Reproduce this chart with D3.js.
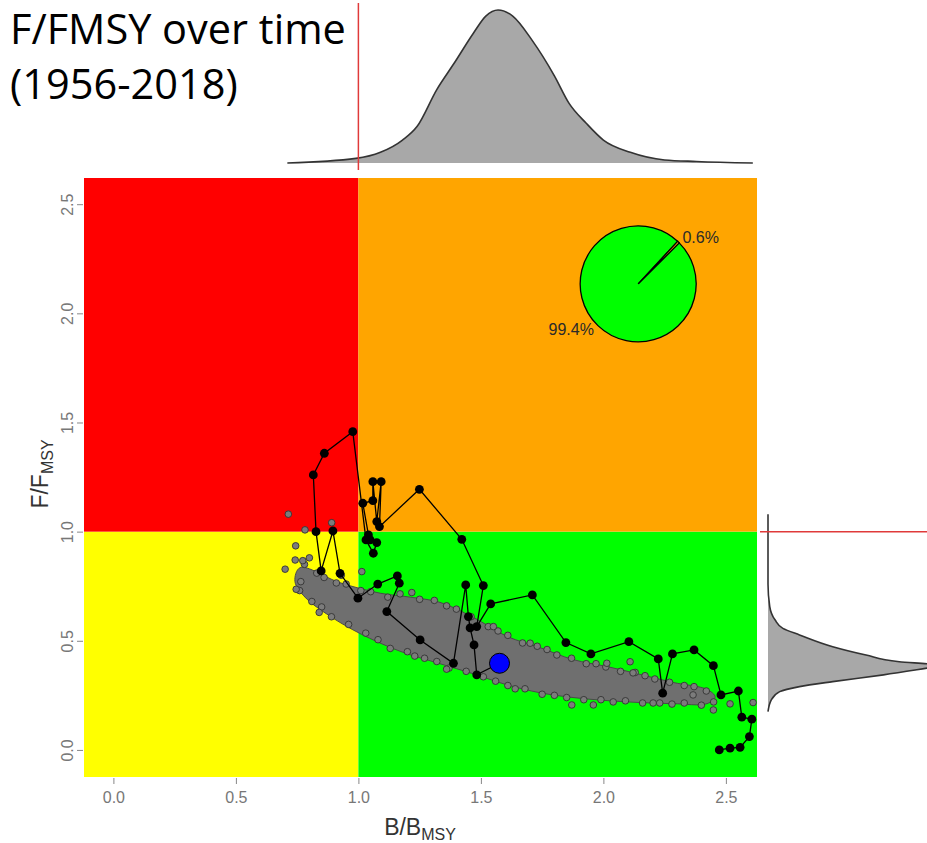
<!DOCTYPE html>
<html>
<head>
<meta charset="utf-8">
<script src="https://cdn.jsdelivr.net/npm/d3@7"></script>
<style>
  body { margin: 0; background: #fff; }
  svg { display: block; }
</style>
</head>
<body>
<div id="chart"></div>
<script>
// ---- values ----
const titleLines = ['F/FMSY over time', '(1956-2018)'];
const bTicks = [0, 0.5, 1, 1.5, 2, 2.5];
const fTicks = [0, 0.5, 1, 1.5, 2, 2.5];

// stock trajectory, first year -> last year (last entry = terminal year)
const trajB = [2.473, 2.517, 2.558, 2.596, 2.606, 2.565, 2.551, 2.480, 2.449, 2.370, 2.282, 2.242, 2.224, 2.104,
               1.949, 1.847, 1.710, 1.540, 1.483, 1.510, 1.422, 1.249, 1.086, 1.093, 1.075, 1.059, 1.059, 1.018,
               1.041, 1.048, 1.075, 1.061, 1.031, 0.977, 0.861, 0.816, 0.827, 0.848, 0.896, 0.925, 0.998, 1.079,
               1.159, 1.167, 1.116, 1.252, 1.388, 1.438, 1.449, 1.456, 1.472, 1.483, 1.576];
const trajF = [0.000, 0.008, 0.012, 0.061, 0.141, 0.150, 0.270, 0.252, 0.386, 0.458, 0.440, 0.260, 0.417, 0.496,
               0.440, 0.492, 0.710, 0.669, 0.565, 0.753, 0.965, 1.194, 1.023, 1.229, 1.046, 1.229, 1.142, 1.130,
               0.985, 0.962, 0.950, 0.901, 0.962, 1.458, 1.359, 1.260, 1.000, 0.820, 1.003, 0.809, 0.695, 0.760,
               0.797, 0.764, 0.634, 0.504, 0.397, 0.756, 0.611, 0.559, 0.481, 0.344, 0.397];

// outline of the dense uncertainty cloud (terminal year samples)
const cloudEdgeB = [0.762, 0.925, 1.089, 1.211, 1.333, 1.468, 1.607, 1.741, 1.876, 2.015, 2.150, 2.285, 2.423, 2.456,
                    2.423, 2.285, 2.150, 2.015, 1.876, 1.741, 1.607, 1.468, 1.333, 1.170, 1.007, 0.884, 0.782, 0.741];
const cloudEdgeF = [0.835, 0.766, 0.718, 0.700, 0.676, 0.608, 0.520, 0.469, 0.414, 0.382, 0.346, 0.309, 0.277, 0.243,
                    0.212, 0.212, 0.217, 0.226, 0.240, 0.262, 0.298, 0.349, 0.395, 0.452, 0.533, 0.613, 0.700, 0.772];

// single samples visible along the edge of the cloud and outside it
const cloudDotB = [0.78, 0.83, 0.86, 0.91, 0.95, 1.01, 1.05, 1.12, 1.17, 1.25, 1.31, 1.36, 1.40, 1.46, 1.53, 1.57, 1.61,
                   1.67, 1.73, 1.77, 1.81, 1.87, 1.93, 1.97, 2.01, 2.07, 2.13, 2.17, 2.21, 2.27, 2.33, 2.37, 2.42,
                   0.76, 0.81, 0.85, 0.89, 0.96, 1.03, 1.08, 1.13, 1.20, 1.27, 1.32, 1.37, 1.44, 1.51, 1.56, 1.61,
                   1.68, 1.75, 1.80, 1.85, 1.92, 1.99, 2.04, 2.09, 2.16, 2.23, 2.28, 2.33, 2.40, 2.45,
                   0.714, 0.782, 0.891, 0.744, 0.742, 0.773, 0.701, 0.765, 0.746, 1.014, 1.218, 1.551, 1.701, 2.109,
                   1.871, 1.959, 2.449, 2.517, 2.611, 2.014, 2.121, 2.366, 2.203, 0.80, 0.84, 0.93, 1.23, 1.36, 1.64];
const cloudDotF = [0.85, 0.81, 0.79, 0.765, 0.76, 0.73, 0.725, 0.70, 0.715, 0.69, 0.685, 0.66, 0.645, 0.61, 0.565, 0.545, 0.525,
                   0.49, 0.475, 0.46, 0.435, 0.42, 0.395, 0.395, 0.38, 0.36, 0.355, 0.34, 0.325, 0.31, 0.295, 0.29, 0.27,
                   0.73, 0.68, 0.655, 0.61, 0.575, 0.535, 0.505, 0.465, 0.45, 0.42, 0.405, 0.375, 0.36, 0.335, 0.315, 0.295,
                   0.28, 0.255, 0.25, 0.24, 0.23, 0.23, 0.22, 0.225, 0.215, 0.215, 0.21, 0.215, 0.205, 0.22,
                   1.080, 1.008, 1.041, 0.935, 0.870, 0.867, 0.828, 0.771, 0.736, 0.817, 0.721, 0.565, 0.489, 0.404,
                   0.206, 0.206, 0.183, 0.211, 0.217, 0.397, 0.353, 0.252, 0.215, 0.88, 0.63, 0.80, 0.43, 0.37, 0.28];

// marginal density of B/Bmsy (relative height)
const densB  = [0.71, 0.99, 1.09, 1.18, 1.24, 1.32, 1.39, 1.47, 1.52, 1.57, 1.63, 1.71, 1.80, 1.86, 1.93, 2.00, 2.11, 2.25, 2.38, 2.61];
const densBH = [0, 0.03, 0.07, 0.15, 0.24, 0.48, 0.65, 0.85, 0.96, 1.0, 0.96, 0.80, 0.57, 0.39, 0.26, 0.15, 0.07, 0.02, 0.01, 0];

// marginal density of F/Fmsy (relative height)
const densF  = [1.08, 0.76, 0.657, 0.596, 0.557, 0.527, 0.473, 0.435, 0.404, 0.394, 0.386, 0.376, 0.344, 0.313, 0.290, 0.267, 0.229, 0.175];
const densFH = [0, 0, 0.01, 0.04, 0.085, 0.18, 0.37, 0.56, 0.75, 0.92, 1.0, 0.92, 0.66, 0.37, 0.18, 0.067, 0.019, 0];

// probability of terminal year per quadrant
const pieLabels = ['0.6%', '99.4%'];
const pieShares = [0.6, 99.4];
const pieCentre = [2.142, 2.135];

class KobePlot {
    constructor(elID) {
        this.width  = 927;
        this.height = 843;
        this.svg    = this.getSVG(elID);

        this.x = d3.scaleLinear().domain([-0.12, 2.627]).range([84, 757]);
        this.y = d3.scaleLinear().domain([-0.124, 2.62]).range([777, 178]);

        this.topH   = d3.scaleLinear().domain([0, 1]).range([163, 10]);
        this.rightW = d3.scaleLinear().domain([0, 1]).range([768, 943]);
    }

    getSVG(id) {
        return d3.select('#' + id).append('svg')
                    .attr('width', this.width)
                    .attr('height', this.height)
                    .style('font-family', 'Liberation Sans, Arial, sans-serif');
    }

    drawZones() {
        const [b0, b1] = this.x.domain();
        const [f0, f1] = this.y.domain();
        const zones = [
            { b: [b0, 1], f: [f0, 1], fill: '#FFFF00' },
            { b: [1, b1], f: [f0, 1], fill: '#00FF00' },
            { b: [b0, 1], f: [1, f1], fill: '#FF0000' },
            { b: [1, b1], f: [1, f1], fill: '#FFA500' },
        ];
        this.svg.append('g').selectAll('rect')
            .data(zones).enter().append('rect')
                .attr('x', d => this.x(d.b[0]))
                .attr('y', d => this.y(d.f[1]))
                .attr('width', d => this.x(d.b[1]) - this.x(d.b[0]))
                .attr('height', d => this.y(d.f[0]) - this.y(d.f[1]))
                .attr('fill', d => d.fill);
    }

    drawCloud() {
        const g = this.svg.append('g');
        const edge = cloudEdgeB.map((b, i) => [this.x(b), this.y(cloudEdgeF[i])]);
        g.append('path')
            .attr('d', d3.line().curve(d3.curveCatmullRomClosed)(edge))
            .attr('fill', '#6f6f6f')
            .attr('stroke', '#4a4a4a')
            .attr('stroke-width', 1);

        g.selectAll('circle')
            .data(cloudDotB.map((b, i) => ({ b: b, f: cloudDotF[i] })))
            .enter().append('circle')
                .attr('cx', d => this.x(d.b))
                .attr('cy', d => this.y(d.f))
                .attr('r', 3.3)
                .attr('fill', '#7c7c7c')
                .attr('stroke', '#333')
                .attr('stroke-width', 0.9);
    }

    drawTrajectory() {
        const pts = trajB.map((b, i) => ({ b: b, f: trajF[i] }));
        const g = this.svg.append('g');

        g.append('path')
            .attr('d', d3.line().x(d => this.x(d.b)).y(d => this.y(d.f))(pts))
            .attr('fill', 'none')
            .attr('stroke', '#000')
            .attr('stroke-width', 1.3);

        g.selectAll('.yr')
            .data(pts.slice(0, -1))
            .enter().append('circle')
                .attr('class', 'yr')
                .attr('cx', d => this.x(d.b))
                .attr('cy', d => this.y(d.f))
                .attr('r', 4.4)
                .attr('fill', '#000');

        const last = pts[pts.length - 1];
        g.append('circle')
            .attr('cx', this.x(last.b))
            .attr('cy', this.y(last.f))
            .attr('r', 10)
            .attr('fill', '#0000FF')
            .attr('stroke', '#000')
            .attr('stroke-width', 1);
    }

    drawPie() {
        const r   = 58;
        const a0  = Math.PI / 4;
        const pie = d3.pie().sort(null).startAngle(a0).endAngle(a0 - 2 * Math.PI);
        const arcs = pie(pieShares);
        const arc  = d3.arc().innerRadius(0).outerRadius(r);
        const fills = ['#FFA500', '#00FF00'];

        const g = this.svg.append('g')
                    .attr('transform', `translate(${this.x(pieCentre[0])},${this.y(pieCentre[1])})`);

        // big slice first so the thin one sits on top
        g.selectAll('path')
            .data(arcs.slice().reverse())
            .enter().append('path')
                .attr('d', arc)
                .attr('fill', d => fills[d.index])
                .attr('stroke', '#000')
                .attr('stroke-width', 1.3);

        g.selectAll('text')
            .data(arcs)
            .enter().append('text')
                .attr('x', d => Math.sin((d.startAngle + d.endAngle) / 2) * r * 1.1)
                .attr('y', d => -Math.cos((d.startAngle + d.endAngle) / 2) * r * 1.1)
                .attr('text-anchor', d => Math.sin((d.startAngle + d.endAngle) / 2) >= 0 ? 'start' : 'end')
                .attr('dominant-baseline', 'central')
                .style('font-size', '16px')
                .style('fill', '#2a2a2a')
                .text((d, i) => pieLabels[i]);
    }

    drawAxes() {
        const xAxis = this.svg.append('g')
            .attr('transform', 'translate(0,778)')
            .call(d3.axisBottom(this.x).tickValues(bTicks).tickFormat(d3.format('.1f'))
                    .tickSize(6).tickPadding(8));

        const yAxis = this.svg.append('g')
            .attr('transform', 'translate(83,0)')
            .call(d3.axisLeft(this.y).tickValues(fTicks).tickFormat(d3.format('.1f'))
                    .tickSize(6));

        [xAxis, yAxis].forEach(ax => {
            ax.select('.domain').remove();
            ax.selectAll('line').attr('stroke', '#888');
            ax.selectAll('text')
                .style('font-size', '16px')
                .style('font-family', 'Liberation Sans, Arial, sans-serif')
                .attr('fill', '#777');
        });

        yAxis.selectAll('text')
            .attr('x', null).attr('dy', null)
            .attr('text-anchor', 'middle')
            .attr('transform', 'translate(-10,0) rotate(-90)');

        const xt = this.svg.append('text')
            .attr('x', 420).attr('y', 835)
            .attr('text-anchor', 'middle')
            .style('font-size', '23px')
            .style('fill', '#333');
        xt.append('tspan').text('B/B');
        xt.append('tspan').attr('dy', 5).style('font-size', '16px').text('MSY');

        const yt = this.svg.append('text')
            .attr('transform', 'translate(48,474) rotate(-90)')
            .attr('text-anchor', 'middle')
            .style('font-size', '23px')
            .style('fill', '#333');
        yt.append('tspan').text('F/F');
        yt.append('tspan').attr('dy', 5).style('font-size', '16px').text('MSY');
    }

    drawTopDensity() {
        const pts = densB.map((b, i) => ({ b: b, h: densBH[i] }));
        const g = this.svg.append('g');
        g.append('path')
            .attr('d', d3.area().curve(d3.curveMonotoneX)
                .x(d => this.x(d.b)).y0(this.topH(0)).y1(d => this.topH(d.h))(pts))
            .attr('fill', '#a8a8a8');
        g.append('path')
            .attr('d', d3.line().curve(d3.curveMonotoneX)
                .x(d => this.x(d.b)).y(d => this.topH(d.h))(pts))
            .attr('fill', 'none')
            .attr('stroke', '#333')
            .attr('stroke-width', 1.6);
        g.append('line')
            .attr('x1', this.x(1)).attr('x2', this.x(1))
            .attr('y1', 3).attr('y2', 170)
            .attr('stroke', '#e03a3a')
            .attr('stroke-width', 1.5);
    }

    drawRightDensity() {
        const pts = densF.map((f, i) => ({ f: f, h: densFH[i] }));
        const g = this.svg.append('g');
        g.append('path')
            .attr('d', d3.area().curve(d3.curveMonotoneY)
                .y(d => this.y(d.f)).x0(this.rightW(0)).x1(d => this.rightW(d.h))(pts))
            .attr('fill', '#a8a8a8');
        g.append('path')
            .attr('d', d3.line().curve(d3.curveMonotoneY)
                .x(d => this.rightW(d.h)).y(d => this.y(d.f))(pts))
            .attr('fill', 'none')
            .attr('stroke', '#333')
            .attr('stroke-width', 1.6);
        g.append('line')
            .attr('x1', 760).attr('x2', this.width)
            .attr('y1', this.y(1)).attr('y2', this.y(1))
            .attr('stroke', '#e03a3a')
            .attr('stroke-width', 1.5);
    }

    drawTitle() {
        this.svg.append('g').selectAll('text')
            .data(titleLines).enter().append('text')
                .attr('x', 10)
                .attr('y', (d, i) => 44 + i * 55)
                .style('font-family', 'Open Sans, sans-serif')
                .style('font-size', '41.5px')
                .style('fill', '#000')
                .text(d => d);
    }

    run() {
        this.drawZones();
        this.drawCloud();
        this.drawTrajectory();
        this.drawPie();
        this.drawAxes();
        this.drawTopDensity();
        this.drawRightDensity();
        this.drawTitle();
    }
}

new KobePlot('chart').run();
</script>
</body>
</html>
